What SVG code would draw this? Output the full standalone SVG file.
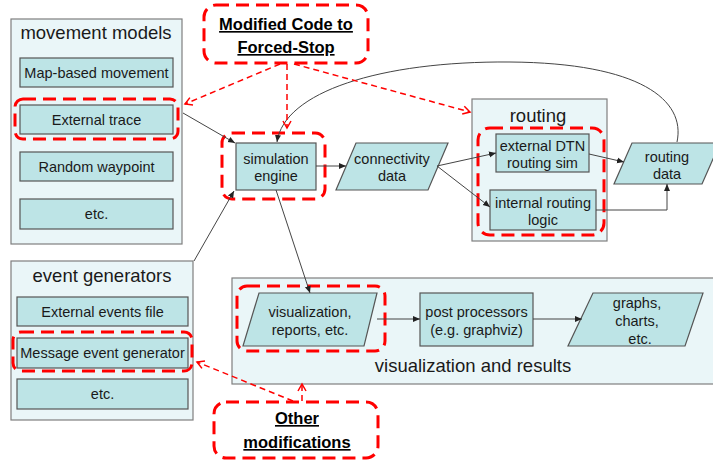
<svg xmlns="http://www.w3.org/2000/svg" width="713" height="463" viewBox="0 0 713 463">
<defs>
<marker id="ah" markerWidth="8" markerHeight="8" refX="7" refY="4" orient="auto" markerUnits="userSpaceOnUse">
<path d="M0,1 L7,4 L0,7 Z" fill="#222"/>
</marker>
<marker id="rh" markerWidth="10" markerHeight="10" refX="8" refY="5" orient="auto" markerUnits="userSpaceOnUse">
<path d="M1,1 L8,5 L1,9" fill="none" stroke="#ff0000" stroke-width="1.5"/>
</marker>
</defs>
<style>
.panel{fill:#eaf6f8;stroke:#7f7f7f;stroke-width:1.2}
.box{fill:#bde4e6;stroke:#555;stroke-width:1.2}
.red{fill:none;stroke:#ff0000;stroke-width:3;stroke-dasharray:13,7}
.t{font-family:"Liberation Sans",Arial,sans-serif;font-size:14.5px;fill:#1a1a1a;text-anchor:middle}
.title{font-family:"Liberation Sans",Arial,sans-serif;font-size:18.5px;fill:#1a1a1a;text-anchor:middle}
.b{font-family:"Liberation Sans",Arial,sans-serif;font-size:16.5px;font-weight:bold;fill:#000;text-anchor:middle;text-decoration:underline}
.ln{fill:none;stroke:#444;stroke-width:1}
.rl{fill:none;stroke:#ff0000;stroke-width:1.5;stroke-dasharray:6,4}
</style>

<g id="movement-models">
<rect class="panel" x="11" y="19" width="171" height="225"/>
<text class="title" x="96" y="39">movement models</text>
<rect class="box" x="20" y="58" width="153" height="29"/>
<text class="t" x="96.5" y="77.5">Map-based movement</text>
<rect class="box" x="20" y="105" width="153" height="29"/>
<text class="t" x="96.5" y="124.5">External trace</text>
<rect class="box" x="20" y="152" width="153" height="29"/>
<text class="t" x="96.5" y="171.5">Random waypoint</text>
<rect class="box" x="20" y="199" width="153" height="30"/>
<text class="t" x="96.5" y="219">etc.</text>
<rect class="red" x="15" y="99" width="163" height="40" rx="8"/>
</g>

<g id="event-generators">
<rect class="panel" x="11" y="261" width="182" height="159"/>
<text class="title" x="102" y="282">event generators</text>
<rect class="box" x="17" y="297" width="171" height="29"/>
<text class="t" x="102.5" y="316.5">External events file</text>
<rect class="box" x="17" y="338" width="171" height="30"/>
<text class="t" x="102.5" y="358">Message event generator</text>
<rect class="box" x="17" y="379" width="171" height="30"/>
<text class="t" x="102.5" y="399">etc.</text>
<rect class="red" x="13" y="332" width="179" height="39" rx="8"/>
</g>

<g id="modified-code">
<rect class="red" x="204" y="5" width="164" height="58" rx="12"/>
<text class="b" x="286" y="30">Modified Code to</text>
<text class="b" x="286" y="53">Forced-Stop</text>
</g>

<g id="simulation-engine">
<rect class="box" x="236" y="143" width="80" height="47"/>
<text class="t" x="276" y="164">simulation</text>
<text class="t" x="276" y="181">engine</text>
<rect class="red" x="222" y="133" width="103" height="66" rx="10"/>
</g>

<g id="connectivity-data">
<polygon class="box" points="356,143 448,143 428,190 336,190"/>
<text class="t" x="392" y="164">connectivity</text>
<text class="t" x="392" y="181">data</text>
</g>

<g id="routing">
<rect class="panel" x="472" y="99" width="135" height="142"/>
<text class="title" x="538" y="122">routing</text>
<rect class="box" x="496" y="134" width="93" height="38"/>
<text class="t" x="542.5" y="151">external DTN</text>
<text class="t" x="542.5" y="168">routing sim</text>
<rect class="box" x="490" y="190" width="106" height="40"/>
<text class="t" x="543" y="208">internal routing</text>
<text class="t" x="543" y="225">logic</text>
<rect class="red" x="478" y="128" width="126" height="107" rx="12"/>
</g>

<g id="routing-data">
<polygon class="box" points="632,143 720,143 702,184 614,184"/>
<text class="t" x="667" y="162">routing</text>
<text class="t" x="667" y="179">data</text>
</g>

<g id="visualization-results">
<rect class="panel" x="232" y="278" width="490" height="106"/>
<text class="title" x="473" y="372">visualization and results</text>
<polygon class="box" points="259,293 377,293 364,346 243,346"/>
<text class="t" x="310" y="317">visualization,</text>
<text class="t" x="310" y="335">reports, etc.</text>
<rect class="red" x="237" y="286" width="148" height="65" rx="10"/>
<rect class="box" x="420" y="293" width="113" height="53"/>
<text class="t" x="476.5" y="317">post processors</text>
<text class="t" x="476.5" y="335">(e.g. graphviz)</text>
<polygon class="box" points="593,293 703,293 685,346 568,346"/>
<text class="t" x="637" y="308">graphs,</text>
<text class="t" x="637" y="326">charts,</text>
<text class="t" x="640" y="344">etc.</text>
</g>

<g id="other-modifications">
<rect class="red" x="214" y="402" width="164" height="56" rx="12"/>
<text class="b" x="297" y="424">Other</text>
<text class="b" x="297" y="448">modifications</text>
</g>

<g id="connectors">
<line class="ln" x1="183" y1="113" x2="235" y2="143" marker-end="url(#ah)"/>
<line class="ln" x1="194" y1="261" x2="234" y2="191" marker-end="url(#ah)"/>
<line class="ln" x1="316" y1="166" x2="346" y2="166" marker-end="url(#ah)"/>
<line class="ln" x1="437" y1="166" x2="496" y2="153" marker-end="url(#ah)"/>
<line class="ln" x1="437" y1="166" x2="490" y2="207" marker-end="url(#ah)"/>
<line class="ln" x1="589" y1="154" x2="624" y2="162" marker-end="url(#ah)"/>
<polyline class="ln" points="596,210 667,210 667,184" marker-end="url(#ah)"/>
<path class="ln" d="M677,142 C686,100 640,63 510,62 C380,61 284,92 277,142" marker-end="url(#ah)"/>
<line class="ln" x1="276" y1="190" x2="310" y2="293" marker-end="url(#ah)"/>
<line class="ln" x1="377" y1="319" x2="420" y2="319" marker-end="url(#ah)"/>
<line class="ln" x1="533" y1="319" x2="582" y2="319" marker-end="url(#ah)"/>
<line class="rl" x1="280" y1="64" x2="185" y2="104" marker-end="url(#rh)"/>
<line class="rl" x1="287" y1="64" x2="287" y2="128" marker-end="url(#rh)"/>
<line class="rl" x1="294" y1="64" x2="470" y2="112" marker-end="url(#rh)"/>
<line class="rl" x1="302" y1="401" x2="302" y2="384" marker-end="url(#rh)"/>
<line class="rl" x1="293" y1="401" x2="197" y2="362" marker-end="url(#rh)"/>
</g>
</svg>
